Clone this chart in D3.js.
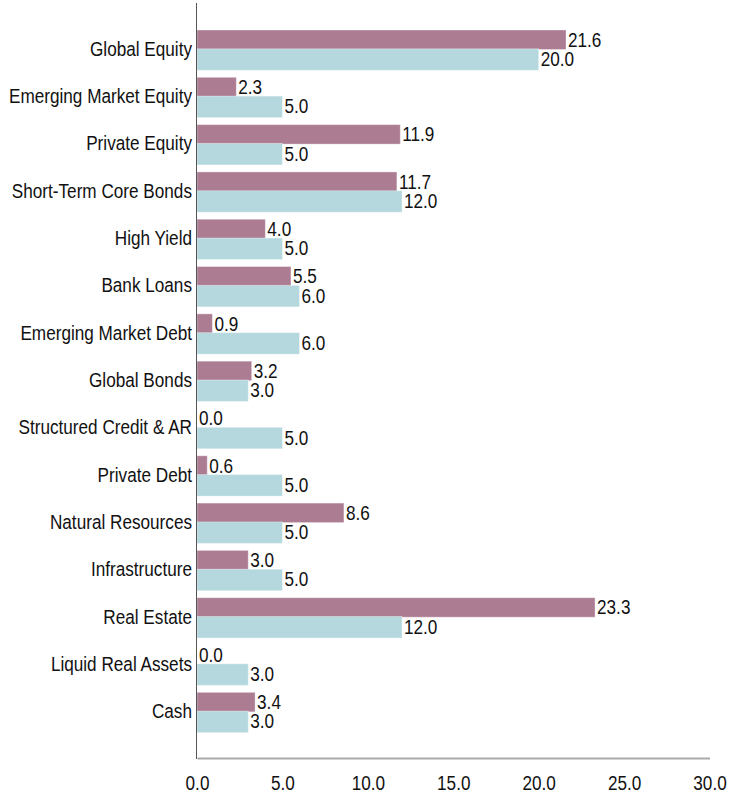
<!DOCTYPE html>
<html>
<head>
<meta charset="utf-8">
<script src="https://cdn.jsdelivr.net/npm/d3@7"></script>
<style>
  html, body { margin: 0; padding: 0; background: #fff; }
  svg { display: block; font-family: "Liberation Sans", Arial, sans-serif; }
</style>
</head>
<body>
<svg id="chart" width="730" height="800"></svg>
<script>
// Asset classes, top to bottom
const categories = [
  "Global Equity", "Emerging Market Equity", "Private Equity", "Short-Term Core Bonds",
  "High Yield", "Bank Loans", "Emerging Market Debt", "Global Bonds",
  "Structured Credit & AR", "Private Debt", "Natural Resources", "Infrastructure",
  "Real Estate", "Liquid Real Assets", "Cash"
];
// Current allocation (%)
const actualWeights = [21.6, 2.3, 11.9, 11.7, 4.0, 5.5, 0.9, 3.2, 0.0, 0.6, 8.6, 3.0, 23.3, 0.0, 3.4];
// Policy target (%)
const targetWeights = [20.0, 5.0, 5.0, 12.0, 5.0, 6.0, 6.0, 3.0, 5.0, 5.0, 5.0, 5.0, 12.0, 3.0, 3.0];
// Axis ticks
const xTicks = [0, 5, 10, 15, 20, 25, 30];

const colActual = "#ac7c93";
const colTarget = "#b4d8de";
const fontSize = 19.5;
const squeeze = 0.88;   // horizontal condensing of all text

const svg = d3.select("#chart");
const plotLeft = 197, plotRight = 709.5, axisY = 758, plotTop = 30;
const step = 47.31;

const x = d3.scaleLinear().domain([0, 30]).range([plotLeft, plotRight]);
const y = d3.scaleBand().domain(categories)
  .range([plotTop, plotTop + step * categories.length]).padding(0);

const hA = 19.5, hT = 21.5, tOff = 18.8;

const rows = categories.map((c, i) => ({ c, a: actualWeights[i], t: targetWeights[i] }));

// Bars
const g = svg.append("g");
g.selectAll("rect.actual").data(rows).join("rect")
  .attr("class", "actual")
  .attr("x", x(0)).attr("y", d => y(d.c))
  .attr("width", d => x(d.a) - x(0)).attr("height", hA)
  .attr("fill", colActual)
  .attr("stroke", "#fff").attr("stroke-opacity", 0.35).attr("stroke-width", 1);
g.selectAll("rect.target").data(rows).join("rect")
  .attr("class", "target")
  .attr("x", x(0)).attr("y", d => y(d.c) + tOff)
  .attr("width", d => x(d.t) - x(0)).attr("height", hT)
  .attr("fill", colTarget)
  .attr("stroke", "#fff").attr("stroke-opacity", 0.35).attr("stroke-width", 1);

// Text helper with horizontal condensing
function label(sel, px, py, txt, anchor) {
  sel.append("text")
    .attr("transform", `translate(${px},${py}) scale(${squeeze},1)`)
    .attr("text-anchor", anchor || "start")
    .attr("font-size", fontSize)
    .attr("fill", "#111")
    .text(txt);
}

// Value labels
const vl = svg.append("g");
rows.forEach(d => {
  label(vl, x(d.a) + 2, y(d.c) + hA / 2 + 7, d.a.toFixed(1));
  label(vl, x(d.t) + 2, y(d.c) + tOff + hT / 2 + 6.5, d.t.toFixed(1));
});

// Category labels
const cl = svg.append("g");
rows.forEach(d => {
  label(cl, plotLeft - 5, y(d.c) + tOff + 7, d.c, "end");
});

// Left axis line
svg.append("line")
  .attr("x1", plotLeft - 0.5).attr("x2", plotLeft - 0.5)
  .attr("y1", 3).attr("y2", axisY + 1)
  .attr("stroke", "#555").attr("stroke-width", 1);

// Bottom axis
const xAxis = d3.axisBottom(x).tickValues(xTicks).tickFormat(d3.format(".1f")).tickSize(0).tickPadding(0);
const ax = svg.append("g").attr("transform", `translate(0,${axisY})`).call(xAxis);
ax.select(".domain").attr("stroke", "#a9a9a9").attr("stroke-width", 2);
ax.selectAll(".tick text")
  .attr("y", null).attr("dy", null)
  .attr("transform", `translate(0,32) scale(${squeeze},1)`)
  .attr("font-size", fontSize)
  .attr("font-family", "Liberation Sans, Arial, sans-serif")
  .attr("fill", "#111");
</script>
</body>
</html>
